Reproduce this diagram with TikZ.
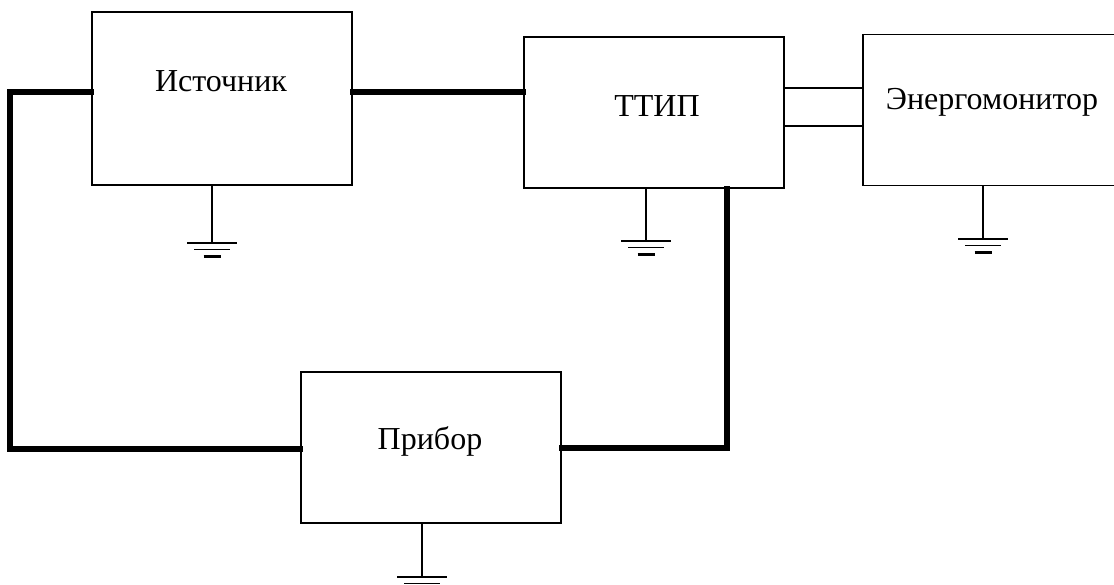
\documentclass[tikz,border=0pt]{standalone}
\usepackage{fontspec}
\setmainfont{Liberation Serif}
\begin{document}
\begin{tikzpicture}[x=1pt,y=-1pt,
  blockbox/.style={draw=black,line width=1.5pt,rectangle,inner sep=0pt,fill=white},
  lbl/.style={font=\fontsize{32}{36}\selectfont,inner sep=0pt,anchor=center},
  thickwire/.style={line width=5.2pt,line cap=rect,line join=miter},
  thinwire/.style={line width=1.4pt},
  gnd/.pic={
    \draw[line width=1.4pt] (-25,0) -- (25,0);
    \draw[line width=1.4pt] (-18,6.5) -- (18,6.5);
    \draw[line width=2.2pt] (-8.5,13.5) -- (8.5,13.5);
  }]
\useasboundingbox (0,0) rectangle (1114,585);
\fill[white] (0,0) rectangle (1114,585);

\coordinate (lc1) at (10,92);
\coordinate (lc2) at (10,449);
\coordinate (rc) at (727,448);

% blocks
\node[blockbox,minimum width=260pt,minimum height=173pt] (src) at (222,98.5) {};
\node[blockbox,minimum width=260pt,minimum height=151pt] (ttip) at (654,112.5) {};
\node[blockbox,minimum width=262pt,minimum height=151pt,anchor=north west] (mon) at (862,34) {};
\node[blockbox,minimum width=260pt,minimum height=151pt] (dev) at (431,447.5) {};

\node[lbl] (srct) at (221,81) {Источник};
\node[lbl] (ttipt) at (657,106) {ТТИП};
\node[lbl] (mont) at (992,102) {Энергомонитор};
\node[lbl] (devt) at (430,441) {Прибор};

% thick connections
\draw[thickwire] (src.east |- lc1) -- (ttip.west |- lc1);
\draw[thickwire] (src.west |- lc1) -- (lc1) -- (lc2) -- (dev.west |- lc2);
\draw[thickwire] (rc |- ttip.south) -- (rc) -- (dev.east |- rc);

% thin connections TTIP - monitor
\coordinate (t1) at (800,88);
\coordinate (t2) at (800,126);
\draw[thinwire] (ttip.east |- t1) -- (mon.west |- t1);
\draw[thinwire] (ttip.east |- t2) -- (mon.west |- t2);

% grounds
\coordinate (g1) at (212,243);
\coordinate (g2) at (646,241);
\coordinate (g3) at (983,239);
\coordinate (g4) at (422,577);
\draw[thinwire] (g1 |- src.south) -- (g1);
\draw[thinwire] (g2 |- ttip.south) -- (g2);
\draw[thinwire] (g3 |- mon.south) -- (g3);
\draw[thinwire] (g4 |- dev.south) -- (g4);
\pic at (g1) {gnd};
\pic at (g2) {gnd};
\pic at (g3) {gnd};
\pic at (g4) {gnd};
\end{tikzpicture}
\end{document}
